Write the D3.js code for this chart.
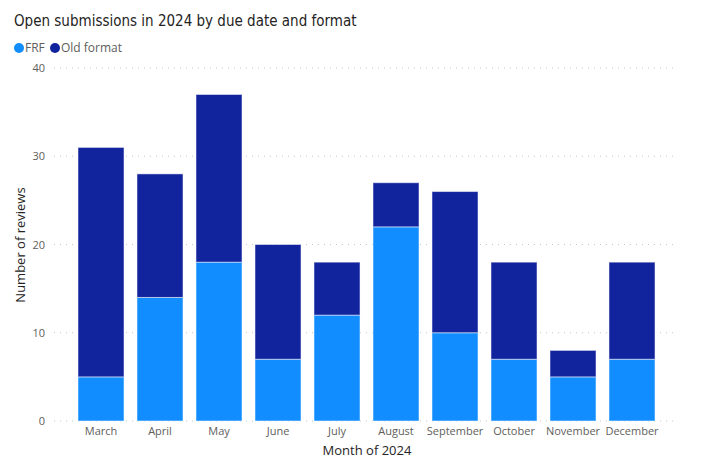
<!DOCTYPE html>
<html><head><meta charset="utf-8">
<script src="https://cdn.jsdelivr.net/npm/d3@7"></script>
<style>body{margin:0;background:#fff;}</style>
</head><body>
<script>
const months = ["March","April","May","June","July","August","September","October","November","December"];
const frf = [5,14,18,7,12,22,10,7,5,7];
const oldFormat = [26,14,19,13,6,5,16,11,3,11];
const yTicks = [0,10,20,30,40];
const seriesNames = ["FRF","Old format"];
const colors = ["#118DFF","#12239E"];

const W=701,H=469;
const svg=d3.select("body").append("svg").attr("width",W).attr("height",H);
const font="'Open Sans', 'Segoe UI', sans-serif";

const x=d3.scaleBand().domain(months).range([71.5,661.5]).paddingInner(0.22).paddingOuter(0.11);
const y=d3.scaleLinear().domain([0,40]).range([421,68]);

// grid
svg.append("g").selectAll("line").data(yTicks).join("line")
 .attr("x1",54).attr("x2",678).attr("y1",d=>y(d)).attr("y2",d=>y(d))
 .attr("stroke","#c8c6c4").attr("stroke-dasharray","1,5").attr("stroke-width",1);

// y ticks
const yAxis=d3.axisLeft(y).tickValues(yTicks).tickSize(0).tickPadding(0);
const ga=svg.append("g").attr("transform","translate(45,0)").call(yAxis);
ga.select(".domain").remove();
ga.selectAll("text").attr("font-family",font).attr("font-size",11).attr("fill","#605E5C");

// stacked bars
const data=months.map((m,i)=>({month:m,FRF:frf[i],"Old format":oldFormat[i]}));
const stack=d3.stack().keys(seriesNames)(data);
svg.append("g").selectAll("g").data(stack).join("g").attr("fill",(d,i)=>colors[i])
 .selectAll("rect").data(d=>d).join("rect")
 .attr("x",d=>x(d.data.month)).attr("width",x.bandwidth())
 .attr("y",d=>y(d[1])).attr("height",d=>y(d[0])-y(d[1]))
 .attr("stroke","rgba(255,255,255,0.5)").attr("stroke-width",1);

// x axis
const xAxis=d3.axisBottom(x).tickSize(0).tickPadding(0);
const gx=svg.append("g").attr("transform","translate(0,427)").call(xAxis);
gx.select(".domain").remove();
gx.selectAll("text").attr("font-family",font).attr("font-size",11).attr("fill","#605E5C").attr("dy","0.71em");

// axis titles
svg.append("text").attr("x",367).attr("y",455).attr("text-anchor","middle")
 .attr("font-family",font).attr("font-size",13).attr("fill","#252423").text("Month of 2024");
svg.append("text").attr("transform","translate(25,245) rotate(-90)").attr("text-anchor","middle")
 .attr("font-family",font).attr("font-size",13).attr("fill","#252423").text("Number of reviews");

// title
svg.append("text").attr("x",14).attr("y",26).attr("font-family","'DejaVu Sans Condensed', 'Open Sans', sans-serif")
 .attr("font-size",15).attr("fill","#252423").text("Open submissions in 2024 by due date and format");

// legend
const leg=svg.append("g");
const lx=[19,55];
seriesNames.forEach((n,i)=>{
  leg.append("circle").attr("cx",lx[i]).attr("cy",48).attr("r",5).attr("fill",colors[i]);
  leg.append("text").attr("x",lx[i]+6).attr("y",52).attr("font-family",font).attr("font-size",12).attr("fill","#605E5C").text(n);
});
</script>
</body></html>
